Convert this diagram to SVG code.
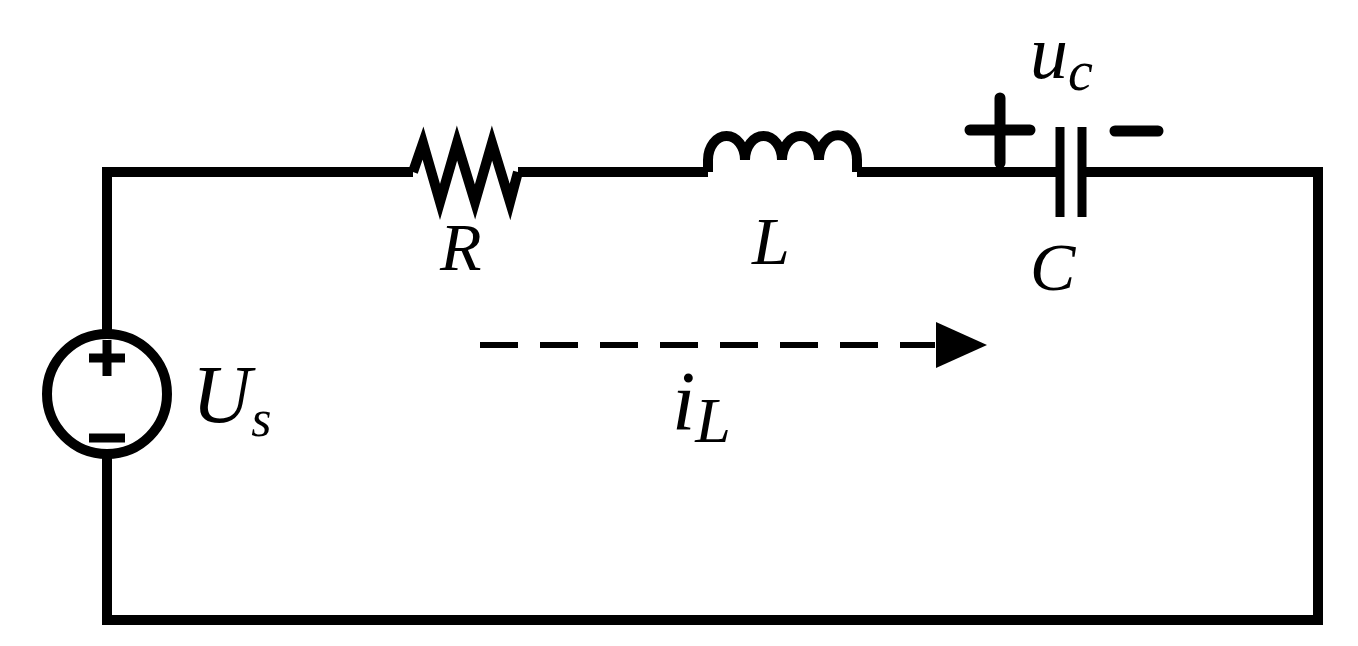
<svg xmlns="http://www.w3.org/2000/svg" width="1358" height="646" viewBox="0 0 1358 646">
<style>
.w{fill:none;stroke:#000;stroke-width:10;stroke-linejoin:miter}
.t{font-family:"Liberation Serif",serif;font-style:italic;fill:#000}
</style>
<rect width="1358" height="646" fill="#fff"/>
<g id="wires">
<path class="w" d="M107,330 V172 H413 M518,172 H708 M857,172 H1060 M1082,172 H1318 V620 H107 V458"/>
<path d="M480,345 H935" stroke="#000" stroke-width="6" stroke-dasharray="38,22" fill="none"/>
<polygon points="936,322 987,345 936,368" fill="#000"/>
</g>
<g id="source">
<circle cx="107" cy="394" r="60" class="w"/>
<path d="M89,358 H125 M107,340 V376 M89,438 H125" stroke="#000" stroke-width="9"/>
<text class="t" x="192" y="422" font-size="82">U<tspan font-size="52" dy="14">s</tspan></text>
</g>
<g id="R">
<path class="w" d="M413,172 L423,143 L440,202 L457,143 L475,202 L492,143 L510,202 L518,172"/>
<text class="t" x="440" y="270" font-size="68">R</text>
</g>
<g id="L">
<path class="w" d="M708,172 V160 A18.5,24 0 0 1 745,160 A18.5,24 0 0 1 782,160 A18.5,24 0 0 1 819,160 A18.5,24 0 0 1 857,160 V172"/>
<text class="t" x="752" y="264" font-size="68">L</text>
</g>
<g id="C">
<path d="M1060,127 V217 M1082,127 V217" stroke="#000" stroke-width="9"/>
<path d="M970,130 H1030 M1000,98 V163 M1115,131 H1158" stroke="#000" stroke-width="11" stroke-linecap="round"/>
<text class="t" x="1030" y="290" font-size="68">C</text>
<text class="t" x="1030" y="78" font-size="76">u<tspan font-size="56" dy="12">c</tspan></text>
</g>
<g id="iL">
<text class="t" x="672" y="430" font-size="84">i<tspan font-size="64" dy="12">L</tspan></text>
</g>
</svg>
